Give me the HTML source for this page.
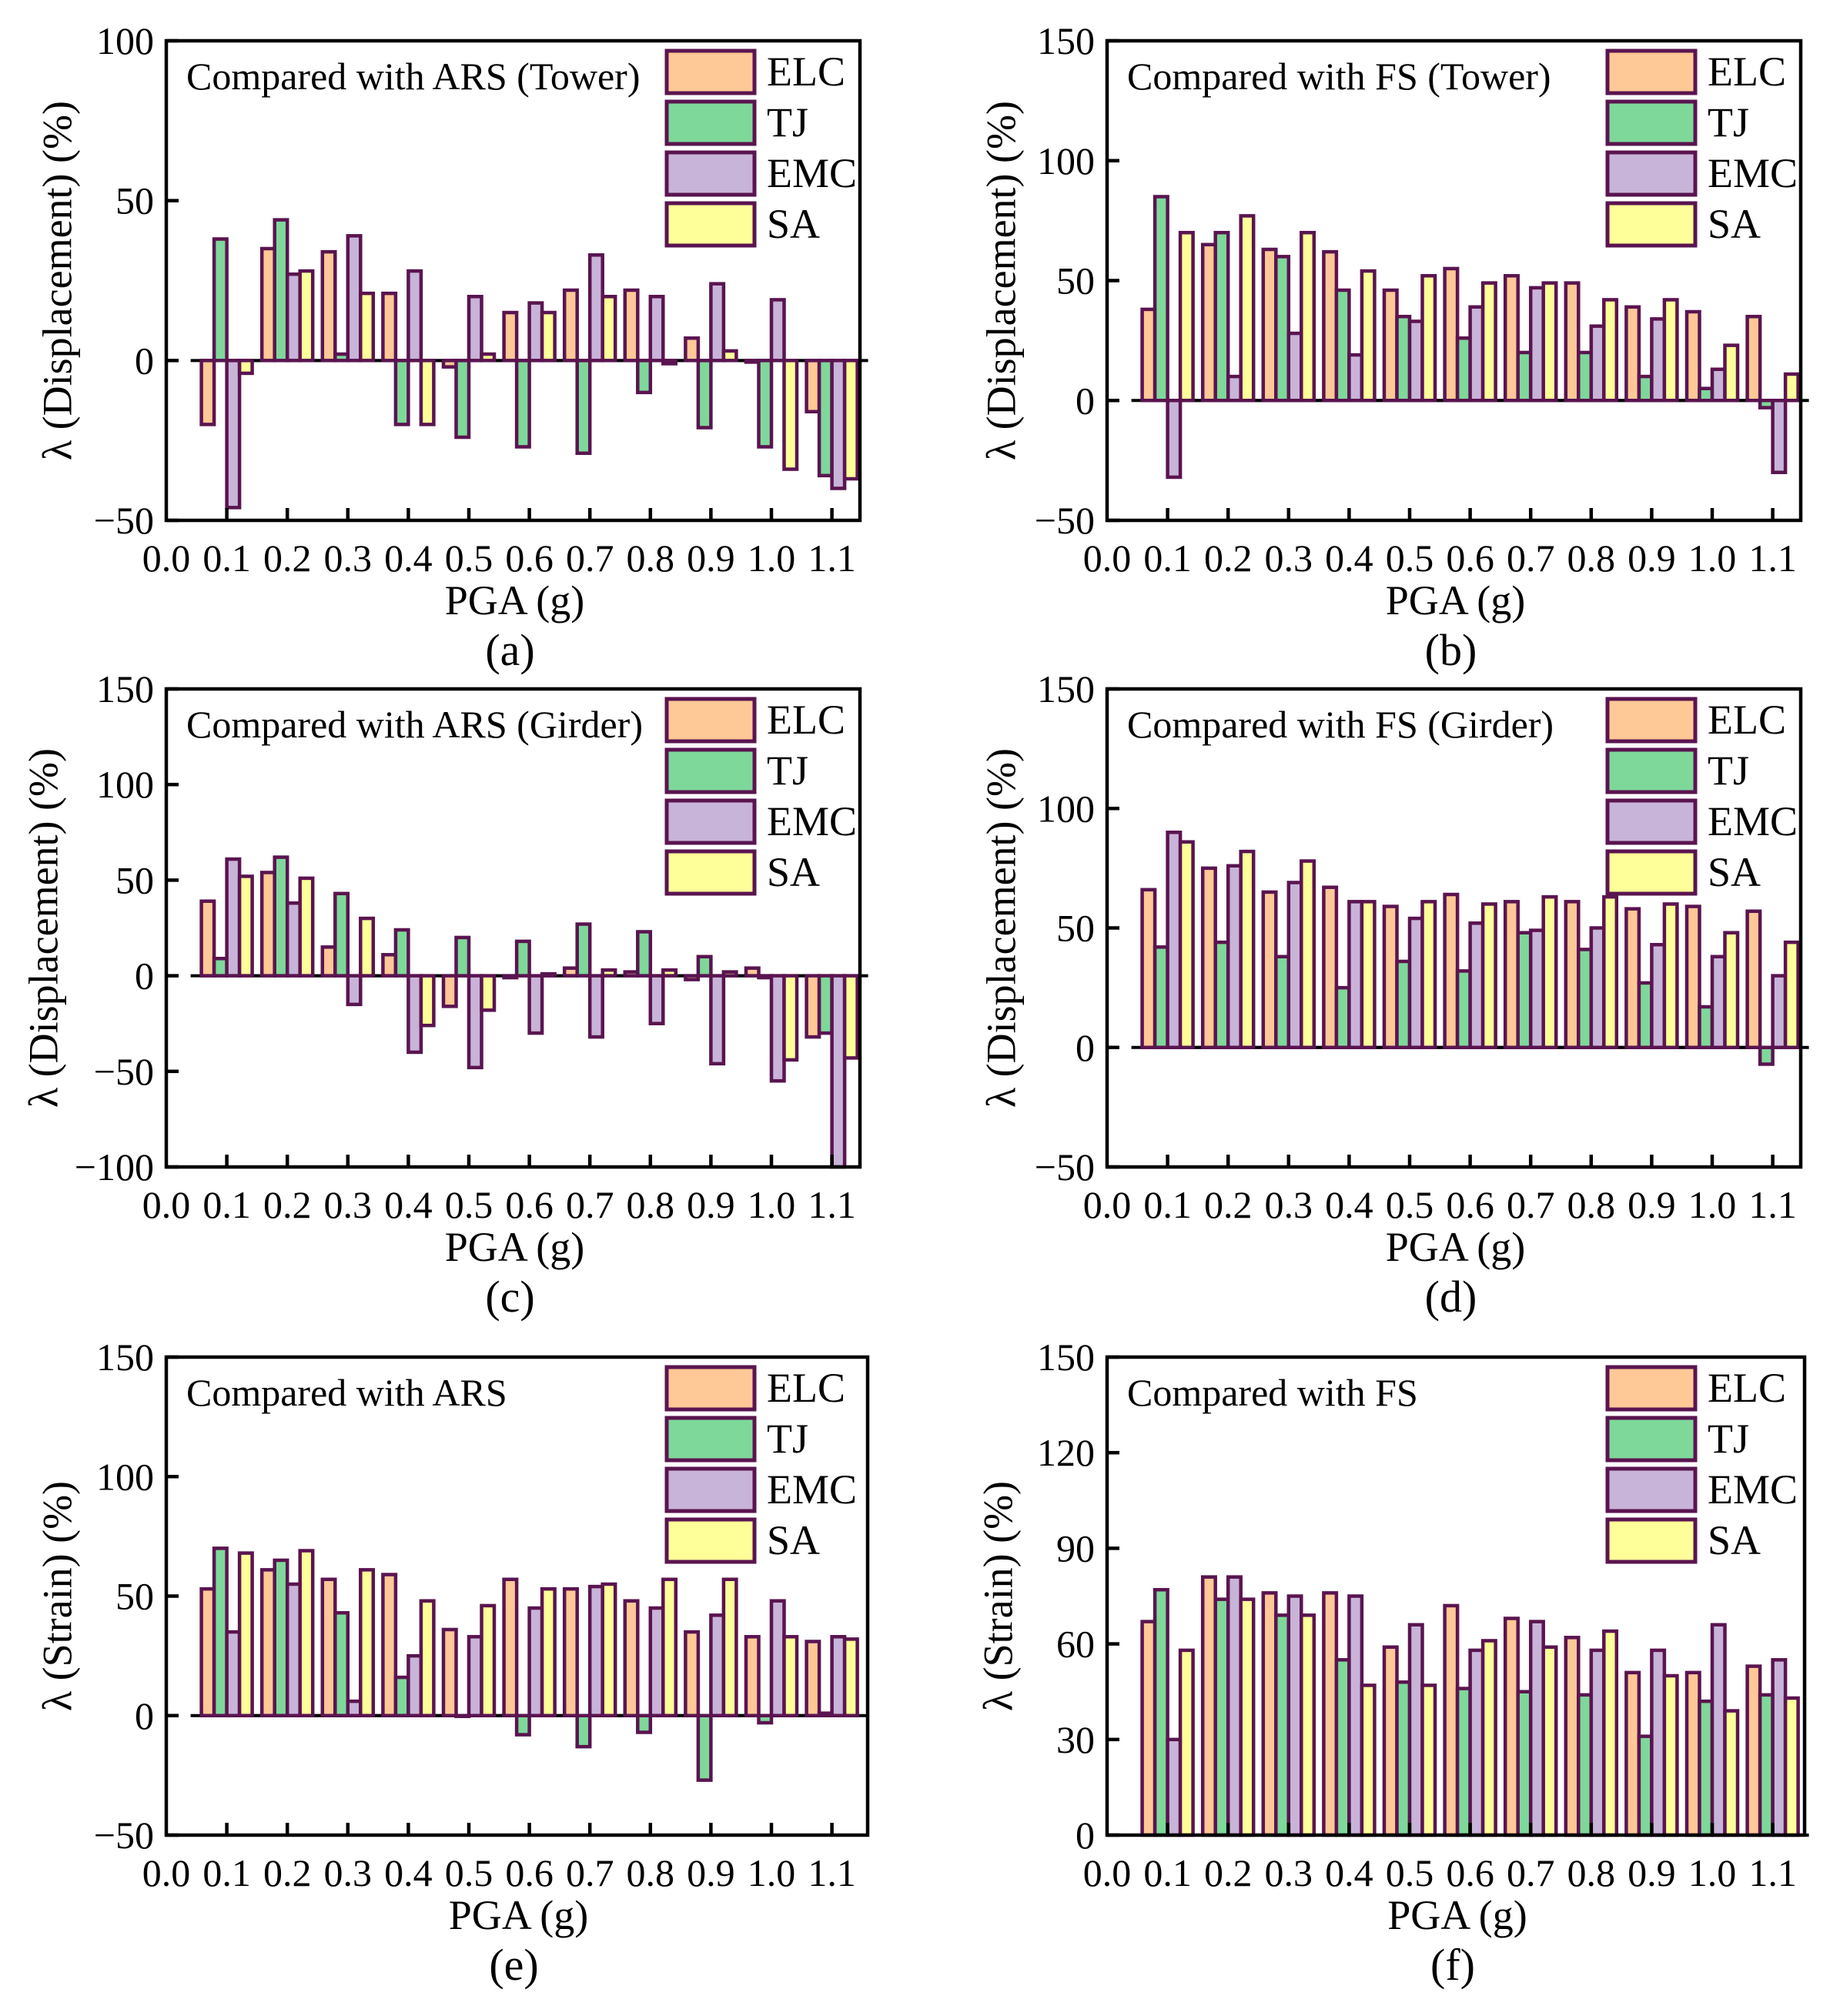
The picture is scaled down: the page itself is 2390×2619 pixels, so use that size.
<!DOCTYPE html>
<html><head><meta charset="utf-8">
<style>
html,body{margin:0;padding:0;background:#fff;}
svg{display:block;}
text{font-family:"Liberation Serif","Times New Roman",serif;}
</style></head>
<body>
<svg id="fig" width="2390" height="2619" viewBox="0 0 2390 2619" xmlns="http://www.w3.org/2000/svg" font-family="Liberation Serif, serif"></svg>
<script>
const categories = [0.1,0.2,0.3,0.4,0.5,0.6,0.7,0.8,0.9,1.0,1.1];
const xTickLabels = ["0.0","0.1","0.2","0.3","0.4","0.5","0.6","0.7","0.8","0.9","1.0","1.1"];
const seriesNames = ["ELC","TJ","EMC","SA"];

const aELC = [-20,35,34,21,-2,15,22,22,7,-0.5,-16];
const aTJ  = [38,44,2,-20,-24,-27,-29,-10,-21,-27,-36];
const aEMC = [-46,27,39,28,20,18,33,20,24,19,-40];
const aSA  = [-4,28,21,-20,2,15,20,-1,3,-34,-37];

const bELC = [38,65,63,62,46,55,52,49,39,37,35];
const bTJ  = [85,70,60,46,35,26,20,20,10,5,-3];
const bEMC = [-32,10,28,19,33,39,47,31,34,13,-30];
const bSA  = [70,77,70,54,52,49,49,42,42,23,11];

const cELC = [39,54,15,11,-16,-1,4,2,-2,4,-32];
const cTJ  = [9,62,43,24,20,18,27,23,10,-1,-30];
const cEMC = [61,38,-15,-40,-48,-30,-32,-25,-46,-55,-100];
const cSA  = [52,51,30,-26,-18,1,3,3,2,-44,-43];

const dELC = [66,75,65,67,59,64,61,61,58,59,57];
const dTJ  = [42,44,38,25,36,32,48,41,27,17,-7];
const dEMC = [90,76,69,61,54,52,49,50,43,38,30];
const dSA  = [86,82,78,61,61,60,63,63,60,48,44];

const eELC = [53,61,57,59,36,57,53,48,35,33,31];
const eTJ  = [70,65,43,16,0,-8,-13,-7,-27,-3,1];
const eEMC = [35,55,6,25,33,45,54,45,42,48,33];
const eSA  = [68,69,61,48,46,53,55,57,57,33,32];

const fELC = [67,81,76,76,59,72,68,62,51,51,53];
const fTJ  = [77,74,69,55,48,46,45,44,31,42,44];
const fEMC = [30,81,75,75,66,58,67,58,58,66,55];
const fSA  = [58,74,69,47,47,61,59,64,50,39,43];

const aTicks = [-50,0,50,100];
const bTicks = [-50,0,50,100,150];
const cTicks = [-100,-50,0,50,100,150];
const dTicks = [-50,0,50,100,150];
const eTicks = [-50,0,50,100,150];
const fTicks = [0,30,60,90,120,150];

const COLORS = ["#FFC896","#7ED89A","#C8B4D8","#FFFF99"];
const STROKE = "#5A1450";
const FONT = "Liberation Serif, serif";
const NS = "http://www.w3.org/2000/svg";
const svg = document.getElementById("fig");

function mk(tag, attrs, parent, text){
  const e = document.createElementNS(NS, tag);
  for (const k in attrs) e.setAttribute(k, attrs[k]);
  if (text !== undefined) { e.setAttribute("font-family", FONT); e.textContent = text; }
  (parent || svg).appendChild(e);
  return e;
}

const panels = [
  {id:"a", L:216, R:1117, T:53, B:676, ymin:-50, ymax:100, ticks:aTicks, series:[aELC,aTJ,aEMC,aSA], title:"Compared with ARS (Tower)", ylab:"λ (Displacement) (%)", ylx:80},
  {id:"b", L:1438, R:2339, T:53, B:676, ymin:-50, ymax:150, ticks:bTicks, series:[bELC,bTJ,bEMC,bSA], title:"Compared with FS (Tower)", ylab:"λ (Displacement) (%)", ylx:1306},
  {id:"c", L:216, R:1117, T:895, B:1516, ymin:-100, ymax:150, ticks:cTicks, series:[cELC,cTJ,cEMC,cSA], title:"Compared with ARS (Girder)", ylab:"λ (Displacement) (%)", ylx:62},
  {id:"d", L:1438, R:2339, T:895, B:1516, ymin:-50, ymax:150, ticks:dTicks, series:[dELC,dTJ,dEMC,dSA], title:"Compared with FS (Girder)", ylab:"λ (Displacement) (%)", ylx:1306},
  {id:"e", L:216, R:1127, T:1763, B:2384, ymin:-50, ymax:150, ticks:eTicks, series:[eELC,eTJ,eEMC,eSA], title:"Compared with ARS", ylab:"λ (Strain) (%)", ylx:80},
  {id:"f", L:1438, R:2344, T:1763, B:2384, ymin:0, ymax:150, ticks:fTicks, series:[fELC,fTJ,fEMC,fSA], title:"Compared with FS", ylab:"λ (Strain) (%)", ylx:1302}
];

panels.forEach(p => {
  const g = mk("g", {});
  
  
  const step = 78.6;
  const xs = v => p.L + (v / 0.1) * step;
  const ys = v => p.B - (v - p.ymin) / (p.ymax - p.ymin) * (p.B - p.T);
  const bw = 16.5;
  categories.forEach((c, i) => {
    const cx = xs(c);
    const seg = mk("line", {x1:cx-2*bw-14, x2:cx+2*bw+14, y1:ys(0), y2:ys(0), stroke:"#000", "stroke-width":4}, g);
    
    
  });
  p.series.forEach((vals, si) => {
    vals.forEach((v, i) => {
      const cx = xs(categories[i]);
      const x = cx + (si - 2) * bw;
      const y0 = ys(0), y1 = ys(v);
      const r = mk("rect", {x:x, y:Math.min(y0,y1), width:bw, height:Math.max(Math.abs(y1-y0),1), fill:COLORS[si], stroke:STROKE, "stroke-width":4.5}, g);
      
      
    });
  });
  const fr = mk("rect", {x:p.L, y:p.T, width:p.R-p.L, height:p.B-p.T, fill:"none", stroke:"#000", "stroke-width":4.5}, g);
  
  
  p.ticks.forEach(t => {
    const y = ys(t);
    const tk = mk("line", {x1:p.L, x2:p.L+16, y1:y, y2:y, stroke:"#000", "stroke-width":4.5}, g);
    
    
    const lb = mk("text", {x:p.L-16, y:y+17, "text-anchor":"end", "font-size":50}, g, t < 0 ? "\u2212" + Math.abs(t) : String(t));
    
    
  });
  xTickLabels.forEach((s, i) => {
    const v = i * 0.1;
    const x = xs(v);
    if (i > 0) {
      const tk = mk("line", {x1:x, x2:x, y1:p.B, y2:p.B-16, stroke:"#000", "stroke-width":4.5}, g);
      
      
    }
    const lb = mk("text", {x:x, y:p.B+66, "text-anchor":"middle", "font-size":50}, g, s);
    
    
  });
  const xt = mk("text", {x:(p.L+p.R)/2 + 2, y:p.B+122, "text-anchor":"middle", "font-size":54}, g, "PGA (g)");
  
  
  const pl = mk("text", {x:(p.L+p.R)/2 - 4, y:p.B+188, "text-anchor":"middle", "font-size":58}, g, "(" + p.id + ")");
  
  
  const cy = (p.T + p.B) / 2;
  const yt = mk("text", {x:p.ylx, y:cy, "text-anchor":"middle", "font-size":54, transform:"rotate(-90 " + p.ylx + " " + cy + ")", "dominant-baseline":"middle"}, g, p.ylab);
  
  
  const tt = mk("text", {x:p.L+26, y:p.T+63, "font-size":50}, g, p.title);
  
  
  const lg = mk("g", {}, g);
  
  
  seriesNames.forEach((n, si) => {
    const bx = p.L + 650, by = p.T + 13 + si * 66;
    const sw = mk("rect", {x:bx, y:by, width:114, height:55, fill:COLORS[si], stroke:STROKE, "stroke-width":5}, lg);
    
    
    const lt = mk("text", {x:bx+130, y:by+45, "font-size":54}, lg, n);
    
    
  });
});
</script>
</body></html>
